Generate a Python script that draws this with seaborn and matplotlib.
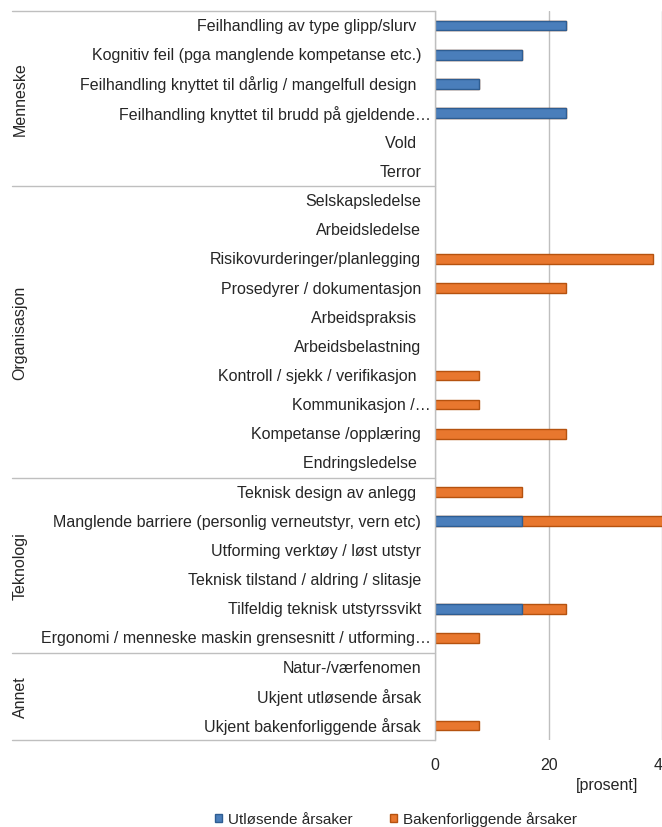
import numpy as np
import pandas as pd
import matplotlib as mpl
from matplotlib import pyplot as plt
from matplotlib.transforms import blended_transform_factory
from matplotlib.patches import Patch
import seaborn as sns

sns.set_style('white')
mpl.rcParams['font.family'] = ['Liberation Sans Narrow', 'Liberation Sans', 'DejaVu Sans']

# Category labels (top to bottom), their group and the two series [prosent]
causes = [
    'Feilhandling av type glipp/slurv ',
    'Kognitiv feil (pga manglende kompetanse etc.)',
    'Feilhandling knyttet til dårlig / mangelfull design ',
    'Feilhandling knyttet til brudd på gjeldende…',
    'Vold ',
    'Terror',
    'Selskapsledelse',
    'Arbeidsledelse',
    'Risikovurderinger/planlegging',
    'Prosedyrer / dokumentasjon',
    'Arbeidspraksis ',
    'Arbeidsbelastning',
    'Kontroll / sjekk / verifikasjon ',
    'Kommunikasjon /…',
    'Kompetanse /opplæring',
    'Endringsledelse ',
    'Teknisk design av anlegg ',
    'Manglende barriere (personlig verneutstyr, vern etc)',
    'Utforming verktøy / løst utstyr',
    'Teknisk tilstand / aldring / slitasje',
    'Tilfeldig teknisk utstyrssvikt',
    'Ergonomi / menneske maskin grensesnitt / utforming…',
    'Natur-/værfenomen',
    'Ukjent utløsende årsak',
    'Ukjent bakenforliggende årsak',
]
groups = ['Menneske', 'Organisasjon', 'Teknologi', 'Annet']
group_sizes = [6, 10, 6, 3]

utlosende = [23.08, 15.38, 7.69, 23.08, 0, 0,
             0, 0, 0, 0, 0, 0, 0, 0, 0, 0,
             0, 15.38, 0, 0, 15.38, 0,
             0, 0, 0]
bakenforliggende = [0, 0, 0, 0, 0, 0,
                    0, 0, 38.46, 23.08, 0, 0, 7.69, 7.69, 23.08, 0,
                    15.38, 30.77, 0, 0, 7.69, 7.69,
                    0, 0, 7.69]

series_names = ['Utløsende årsaker', 'Bakenforliggende årsaker']
blue, blue_edge = '#4A7EBB', '#2E5D92'
orange, orange_edge = '#E8772E', '#B5520F'
grid_col = '#BFBFBF'
text_col = '#262626'

keys = [f'c{i}' for i in range(len(causes))]
df = pd.DataFrame({'key': keys,
                   'blue': np.array(utlosende, dtype=float),
                   'total': np.array(utlosende) + np.array(bakenforliggende)})
df['blue'] = df['blue'].replace(0, np.nan)
df['total'] = df['total'].replace(0, np.nan)

W, H = 662, 828
fig = plt.figure(figsize=(W / 100, H / 100), dpi=100)

x0_px, top_px, bot_px = 435, 12, 741
px_per_unit = 5.68
xmax = 60
ax = fig.add_axes([x0_px / W, (H - bot_px) / H, xmax * px_per_unit / W, (bot_px - top_px) / H])

# stacked: total in orange, blue drawn over it
sns.barplot(data=df, x='total', y='key', order=keys, orient='y', ax=ax,
            color=orange, edgecolor=orange_edge, linewidth=1.0, width=0.33, saturation=1)
sns.barplot(data=df, x='blue', y='key', order=keys, orient='y', ax=ax,
            color=blue, edgecolor=blue_edge, linewidth=1.0, width=0.33, saturation=1)

ax.set_xlim(0, xmax)
ax.set_ylim(len(causes) - 0.5, -0.5)
ax.set_xticks([0, 20, 40, 60])
ax.tick_params(axis='x', length=0, pad=12, labelsize=11.5, labelcolor=text_col)
ax.set_yticks([])
ax.set_xlabel('')
ax.set_ylabel('')
ax.xaxis.grid(True, color=grid_col, linewidth=1)
ax.set_axisbelow(True)
for s in ['top', 'right', 'bottom']:
    ax.spines[s].set_visible(False)
ax.spines['left'].set_color(grid_col)
ax.spines['left'].set_linewidth(1)

# category labels
trans = blended_transform_factory(ax.transAxes, ax.transData)
for i, lab in enumerate(causes):
    off = -4 if lab.endswith('…') else -14
    ax.annotate(lab, xy=(0, i), xycoords=trans, xytext=(off, 0), textcoords='offset pixels',
                ha='right', va='center', fontsize=11.5, color=text_col, annotation_clip=False)

# group separators and group labels
bounds = np.concatenate([[0], np.cumsum(group_sizes)]) - 0.5
for b in bounds:
    ax.plot([-(x0_px - 12) / (xmax * px_per_unit), 0], [b, b], transform=trans,
            color=grid_col, linewidth=1, clip_on=False)
for g, a, b in zip(groups, bounds[:-1], bounds[1:]):
    ax.annotate(g, xy=(0, (a + b) / 2), xycoords=trans,
                xytext=(-(x0_px - 20), 0), textcoords='offset pixels',
                ha='center', va='center', rotation=90, fontsize=11.5, color=text_col,
                annotation_clip=False)

fig.text(607 / W, 1 - 786 / H, '[prosent]', ha='center', va='center', fontsize=11.5, color=text_col)

handles = [Patch(facecolor=blue, edgecolor=blue_edge), Patch(facecolor=orange, edgecolor=orange_edge)]
fig.legend(handles, series_names, loc='center', bbox_to_anchor=(396 / W, 1 - 820 / H), ncol=2,
           frameon=False, fontsize=11, handlelength=0.5, handleheight=0.5, handletextpad=0.4,
           columnspacing=2.4, labelcolor=text_col)

fig.savefig('out.png', dpi=100)
